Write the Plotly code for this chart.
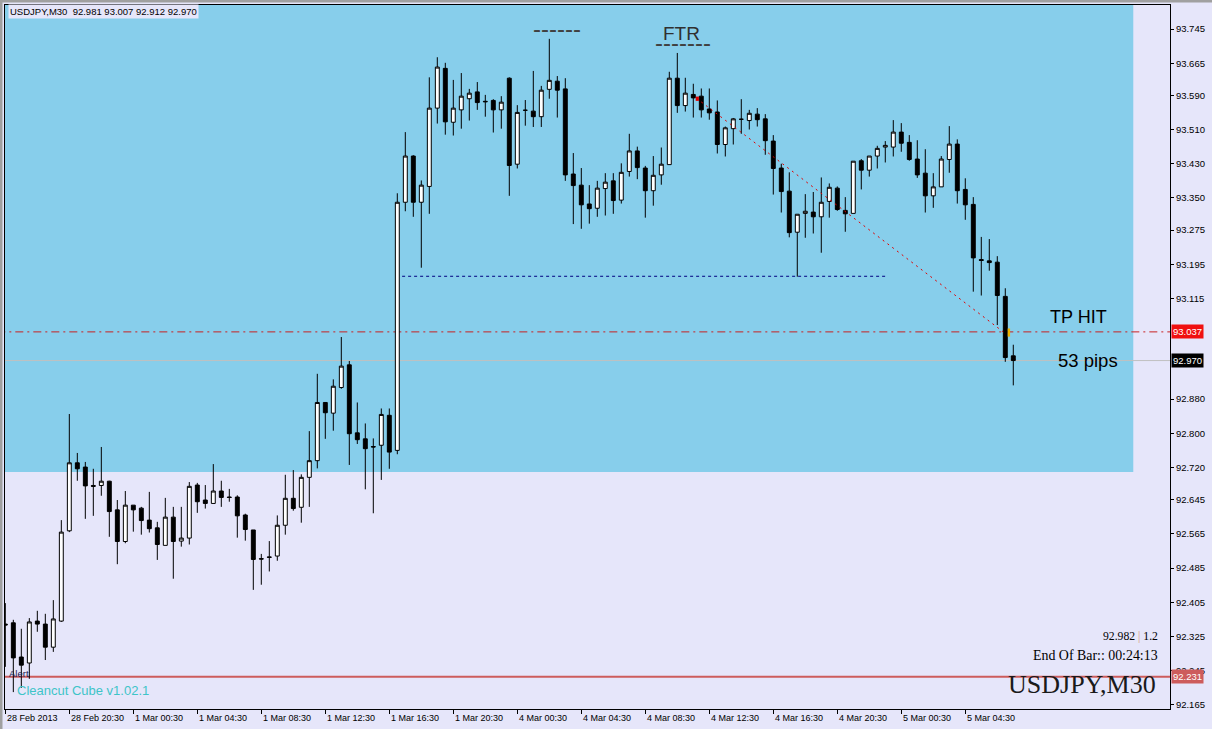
import plotly.graph_objects as go

# ---------------- data ----------------
opens = [92.354, 92.357, 92.277, 92.263, 92.361, 92.354, 92.300, 92.361, 92.572, 92.731,
         92.721, 92.678, 92.678, 92.688, 92.621, 92.547, 92.632, 92.625, 92.597, 92.579,
         92.538, 92.604, 92.548, 92.555, 92.679, 92.644, 92.636, 92.665, 92.651, 92.651,
         92.609, 92.574, 92.507, 92.511, 92.513, 92.585, 92.648, 92.627, 92.697, 92.736,
         92.872, 92.847, 92.907, 92.960, 92.801, 92.787, 92.769, 92.772, 92.842, 92.760,
         93.340, 93.448, 93.340, 93.377, 93.560, 93.653, 93.527, 93.556, 93.582, 93.598,
         93.576, 93.578, 93.556, 93.630, 93.429, 93.555, 93.553, 93.540, 93.604, 93.623,
         93.605, 93.406, 93.380, 93.336, 93.326, 93.372, 93.390, 93.345, 93.412, 93.460,
         93.420, 93.367, 93.404, 93.428, 93.630, 93.566, 93.592, 93.588, 93.558, 93.551,
         93.475, 93.512, 93.534, 93.531, 93.546, 93.535, 93.483, 93.420, 93.366, 93.270,
         93.314, 93.317, 93.306, 93.342, 93.373, 93.321, 93.314, 93.437, 93.415, 93.448,
         93.469, 93.469, 93.504, 93.480, 93.441, 93.408, 93.355, 93.376, 93.440, 93.476,
         93.370, 93.335, 93.206, 93.203, 93.200, 93.120, 92.981]
highs = [92.403, 92.364, 92.343, 92.368, 92.385, 92.378, 92.410, 92.597, 92.845, 92.754,
         92.733, 92.717, 92.768, 92.689, 92.644, 92.665, 92.632, 92.628, 92.663, 92.593,
         92.649, 92.628, 92.628, 92.686, 92.684, 92.679, 92.728, 92.689, 92.670, 92.655,
         92.612, 92.574, 92.518, 92.548, 92.608, 92.703, 92.714, 92.704, 92.805, 92.939,
         92.872, 92.926, 93.025, 92.969, 92.872, 92.823, 92.788, 92.858, 92.858, 93.361,
         93.504, 93.450, 93.391, 93.632, 93.679, 93.666, 93.626, 93.642, 93.605, 93.621,
         93.591, 93.581, 93.588, 93.632, 93.567, 93.579, 93.647, 93.612, 93.722, 93.635,
         93.630, 93.455, 93.420, 93.380, 93.390, 93.408, 93.408, 93.431, 93.500, 93.470,
         93.425, 93.448, 93.468, 93.645, 93.689, 93.631, 93.617, 93.606, 93.606, 93.578,
         93.517, 93.537, 93.581, 93.556, 93.560, 93.546, 93.497, 93.430, 93.410, 93.312,
         93.359, 93.364, 93.398, 93.384, 93.377, 93.352, 93.436, 93.441, 93.448, 93.472,
         93.483, 93.532, 93.525, 93.497, 93.485, 93.464, 93.408, 93.448, 93.518, 93.487,
         93.396, 93.352, 93.259, 93.254, 93.214, 93.139, 93.007]
lows = [92.254, 92.195, 92.205, 92.226, 92.336, 92.270, 92.289, 92.359, 92.569, 92.689,
        92.600, 92.607, 92.654, 92.558, 92.494, 92.543, 92.570, 92.563, 92.568, 92.504,
        92.538, 92.460, 92.535, 92.540, 92.614, 92.624, 92.636, 92.628, 92.640, 92.556,
        92.549, 92.434, 92.446, 92.477, 92.502, 92.563, 92.619, 92.591, 92.628, 92.718,
        92.787, 92.806, 92.904, 92.726, 92.775, 92.669, 92.613, 92.691, 92.717, 92.751,
        93.319, 93.306, 93.187, 93.313, 93.524, 93.498, 93.496, 93.512, 93.531, 93.556,
        93.540, 93.503, 93.512, 93.355, 93.419, 93.519, 93.516, 93.516, 93.582, 93.538,
        93.390, 93.289, 93.278, 93.290, 93.306, 93.309, 93.313, 93.337, 93.400, 93.394,
        93.304, 93.332, 93.381, 93.428, 93.549, 93.552, 93.538, 93.538, 93.533, 93.454,
        93.447, 93.475, 93.500, 93.510, 93.517, 93.451, 93.358, 93.316, 93.258, 93.166,
        93.257, 93.267, 93.222, 93.304, 93.320, 93.271, 93.314, 93.370, 93.400, 93.419,
        93.433, 93.447, 93.458, 93.437, 93.397, 93.316, 93.327, 93.376, 93.409, 93.337,
        93.299, 93.131, 93.122, 93.180, 93.053, 92.967, 92.912]
closes = [92.352, 92.275, 92.258, 92.359, 92.354, 92.300, 92.366, 92.569, 92.731, 92.717,
          92.677, 92.676, 92.688, 92.617, 92.547, 92.632, 92.621, 92.596, 92.577, 92.540,
          92.604, 92.547, 92.555, 92.676, 92.640, 92.636, 92.665, 92.650, 92.650, 92.607,
          92.575, 92.505, 92.506, 92.510, 92.585, 92.648, 92.624, 92.697, 92.736, 92.872,
          92.848, 92.910, 92.957, 92.799, 92.785, 92.764, 92.768, 92.844, 92.756, 93.340,
          93.448, 93.340, 93.380, 93.560, 93.656, 93.528, 93.560, 93.588, 93.595, 93.573,
          93.575, 93.556, 93.574, 93.426, 93.550, 93.555, 93.540, 93.602, 93.625, 93.602,
          93.404, 93.379, 93.334, 93.325, 93.373, 93.387, 93.344, 93.410, 93.460, 93.421,
          93.367, 93.403, 93.429, 93.630, 93.566, 93.595, 93.584, 93.556, 93.549, 93.475,
          93.514, 93.535, 93.534, 93.548, 93.533, 93.484, 93.419, 93.365, 93.269, 93.312,
          93.319, 93.306, 93.340, 93.375, 93.323, 93.313, 93.436, 93.415, 93.448, 93.466,
          93.473, 93.504, 93.478, 93.440, 93.404, 93.355, 93.376, 93.441, 93.476, 93.367,
          93.334, 93.210, 93.204, 93.199, 93.122, 92.977, 92.970]
bars = list(range(len(closes)))

time_tick_bars = [0, 8, 16, 24, 32, 40, 48, 56, 64, 72, 80, 88, 96, 104, 112, 120]
time_tick_labels = ["28 Feb 2013", "28 Feb 20:30", "1 Mar 00:30", "1 Mar 04:30",
                    "1 Mar 08:30", "1 Mar 12:30", "1 Mar 16:30", "1 Mar 20:30",
                    "4 Mar 00:30", "4 Mar 04:30", "4 Mar 08:30", "4 Mar 12:30",
                    "4 Mar 16:30", "4 Mar 20:30", "5 Mar 00:30", "5 Mar 04:30"]
price_ticks = [93.745, 93.665, 93.590, 93.510, 93.430, 93.350, 93.275, 93.195, 93.115,
               92.880, 92.800, 92.720, 92.645, 92.565, 92.485, 92.405, 92.325, 92.245, 92.165]

zone_low = 92.7095
zone_bars = [-1, 141]
tp_level = 93.037
bid_level = 92.970
red_level = 92.231
support_level = 93.167
support_bars = [49.6, 110]
trend_start = (86.4, 93.583)
trend_end = (124.75, 93.037)
info_text = ["92.982", "1.2", "End Of Bar:: 00:24:13", "USDJPY,M30"]

# ---------------- layout helpers ----------------
W, H = 1212, 729
PL, PR, PT, PB = 5, 1170, 5, 709
X_RANGE = [-0.04, 145.59]
Y_RANGE = [92.1555, 93.8011]


def xp(px):
    return (px - PL) / (PR - PL)


def yp(py):
    return (PB - py) / (PB - PT)


SKY = "#87CEEB"
LAV = "#E6E6FA"

fig = go.Figure()
fig.add_trace(go.Candlestick(
    x=bars, open=opens, high=highs, low=lows, close=closes,
    increasing=dict(line=dict(color="black", width=1), fillcolor="white"),
    decreasing=dict(line=dict(color="black", width=1), fillcolor="black"),
    whiskerwidth=0, hoverinfo="skip", showlegend=False,
))

full_x0, full_x1 = -1, 150
shapes = [
    dict(type="rect", xref="x", yref="y", x0=zone_bars[0], x1=zone_bars[1],
         y0=zone_low, y1=94.5, fillcolor=SKY, line=dict(width=0), layer="below"),
    dict(type="line", xref="x", yref="y", x0=full_x0, x1=full_x1, y0=bid_level, y1=bid_level,
         line=dict(color="#C0C0C0", width=1), layer="below"),
    dict(type="line", xref="x", yref="y", x0=full_x0, x1=full_x1, y0=tp_level, y1=tp_level,
         line=dict(color="#C82020", width=1, dash="8px,4px,2px,4px"), layer="below"),
    dict(type="line", xref="x", yref="y", x0=full_x0, x1=full_x1, y0=red_level, y1=red_level,
         line=dict(color="#CD5C5C", width=2), layer="below"),
    dict(type="line", xref="x", yref="y", x0=support_bars[0], x1=support_bars[1],
         y0=support_level, y1=support_level,
         line=dict(color="#000080", width=1, dash="3px,3px"), layer="below"),
    dict(type="line", xref="x", yref="y", x0=trend_start[0], y0=trend_start[1],
         x1=trend_end[0], y1=trend_end[1],
         line=dict(color="#E00000", width=1, dash="2px,4px"), layer="above"),
    dict(type="rect", xref="x", yref="y", x0=trend_end[0] + 0.55, x1=trend_end[0] + 0.85,
         y0=trend_end[1] - 0.011, y1=trend_end[1] + 0.008,
         fillcolor="#F0B400", line=dict(width=0), layer="above"),
    dict(type="rect", xref="x", yref="y", x0=trend_start[0] - 0.1, x1=trend_start[0] + 0.3,
         y0=trend_start[1] - 0.006, y1=trend_start[1] + 0.004,
         fillcolor="#E00000", line=dict(width=0), layer="above"),
    # window frame
    dict(type="rect", xref="paper", yref="paper", x0=xp(0), x1=xp(2.5), y0=yp(729), y1=yp(0),
         fillcolor="#A0A0A0", line=dict(width=0), layer="above"),
    dict(type="rect", xref="paper", yref="paper", x0=xp(0), x1=xp(1212), y0=yp(2.5), y1=yp(0),
         fillcolor="#A0A0A0", line=dict(width=0), layer="above"),
]

annotations = []
SANS = "Liberation Sans"
SERIF = "Liberation Serif"

for b, lab in zip(time_tick_bars, time_tick_labels):
    annotations.append(dict(x=b, y=0, xref="x", yref="paper", text=lab, showarrow=False,
                            xanchor="left", yanchor="top", xshift=0, yshift=-2,
                            font=dict(family=SANS, size=9, color="black")))

# price tags
for val, bg in [(tp_level, "#F01010"), (bid_level, "black"), (red_level, "#CD5C5C")]:
    annotations.append(dict(x=1, y=val, xref="paper", yref="y", text=f"{val:.3f}",
                            showarrow=False, xanchor="left", yanchor="middle", xshift=1,
                            bgcolor=bg, borderpad=1,
                            font=dict(family=SANS, size=9.5, color="white")))

title_text = f"USDJPY,M30\u00a0\u00a0{opens[-1]:.3f} {highs[-1]:.3f} {lows[-1]:.3f} {closes[-1]:.3f}"


def txt(text, px, py, size, color="black", family=SANS, anchor="left", bg=None):
    d = dict(x=xp(px), y=yp(py), xref="paper", yref="paper", text=text, showarrow=False,
             xanchor=anchor, yanchor="middle", font=dict(family=family, size=size, color=color))
    if bg:
        d["bgcolor"] = bg
        d["borderpad"] = 1
    annotations.append(d)


txt(title_text, 8, 12, 9.5, bg=LAV)
txt("------", 557, 29, 24, color="#404040", anchor="center")
txt("FTR", 681, 33, 19, color="#303030", anchor="center")
txt("-------", 683, 43, 24, color="#404040", anchor="center")
txt("TP HIT", 1048, 317, 18)
txt("53 pips", 1056, 361, 18.5)
txt(f"{info_text[0]} <span style='color:#D9A070'>|</span> {info_text[1]}", 1160, 636, 11.7,
    family=SERIF, anchor="right")
txt(info_text[2], 1160, 655, 13.9, family=SERIF, anchor="right")
txt(info_text[3], 1158, 684, 26, color="#1A1A1A", family=SERIF, anchor="right")
txt("Alert", 7, 673, 9.5, color="#202050")
txt("Cleancut Cube v1.02.1", 15, 690, 13, color="#3EC4C8")

fig.update_layout(
    width=W, height=H,
    margin=dict(l=PL, r=W - PR, t=PT, b=H - PB, pad=0),
    paper_bgcolor=LAV, plot_bgcolor=LAV,
    shapes=shapes, annotations=annotations,
    showlegend=False,
    xaxis=dict(range=X_RANGE, rangeslider=dict(visible=False), showgrid=False,
               zeroline=False, showline=True, linecolor="black", linewidth=1, mirror=True,
               tickmode="array", tickvals=time_tick_bars, ticks="outside", ticklen=4,
               tickcolor="black", showticklabels=False, fixedrange=True),
    yaxis=dict(range=Y_RANGE, side="right", showgrid=False, zeroline=False,
               showline=True, linecolor="black", linewidth=1, mirror=True,
               tickmode="array", tickvals=price_ticks,
               ticktext=[f"{v:.3f}" for v in price_ticks],
               ticks="outside", ticklen=3, tickcolor="black",
               tickfont=dict(family=SANS, size=9.5, color="black"), fixedrange=True),
)

fig.write_html("out.html", config={"displayModeBar": False},
               post_script="document.body.style.margin='0';")
